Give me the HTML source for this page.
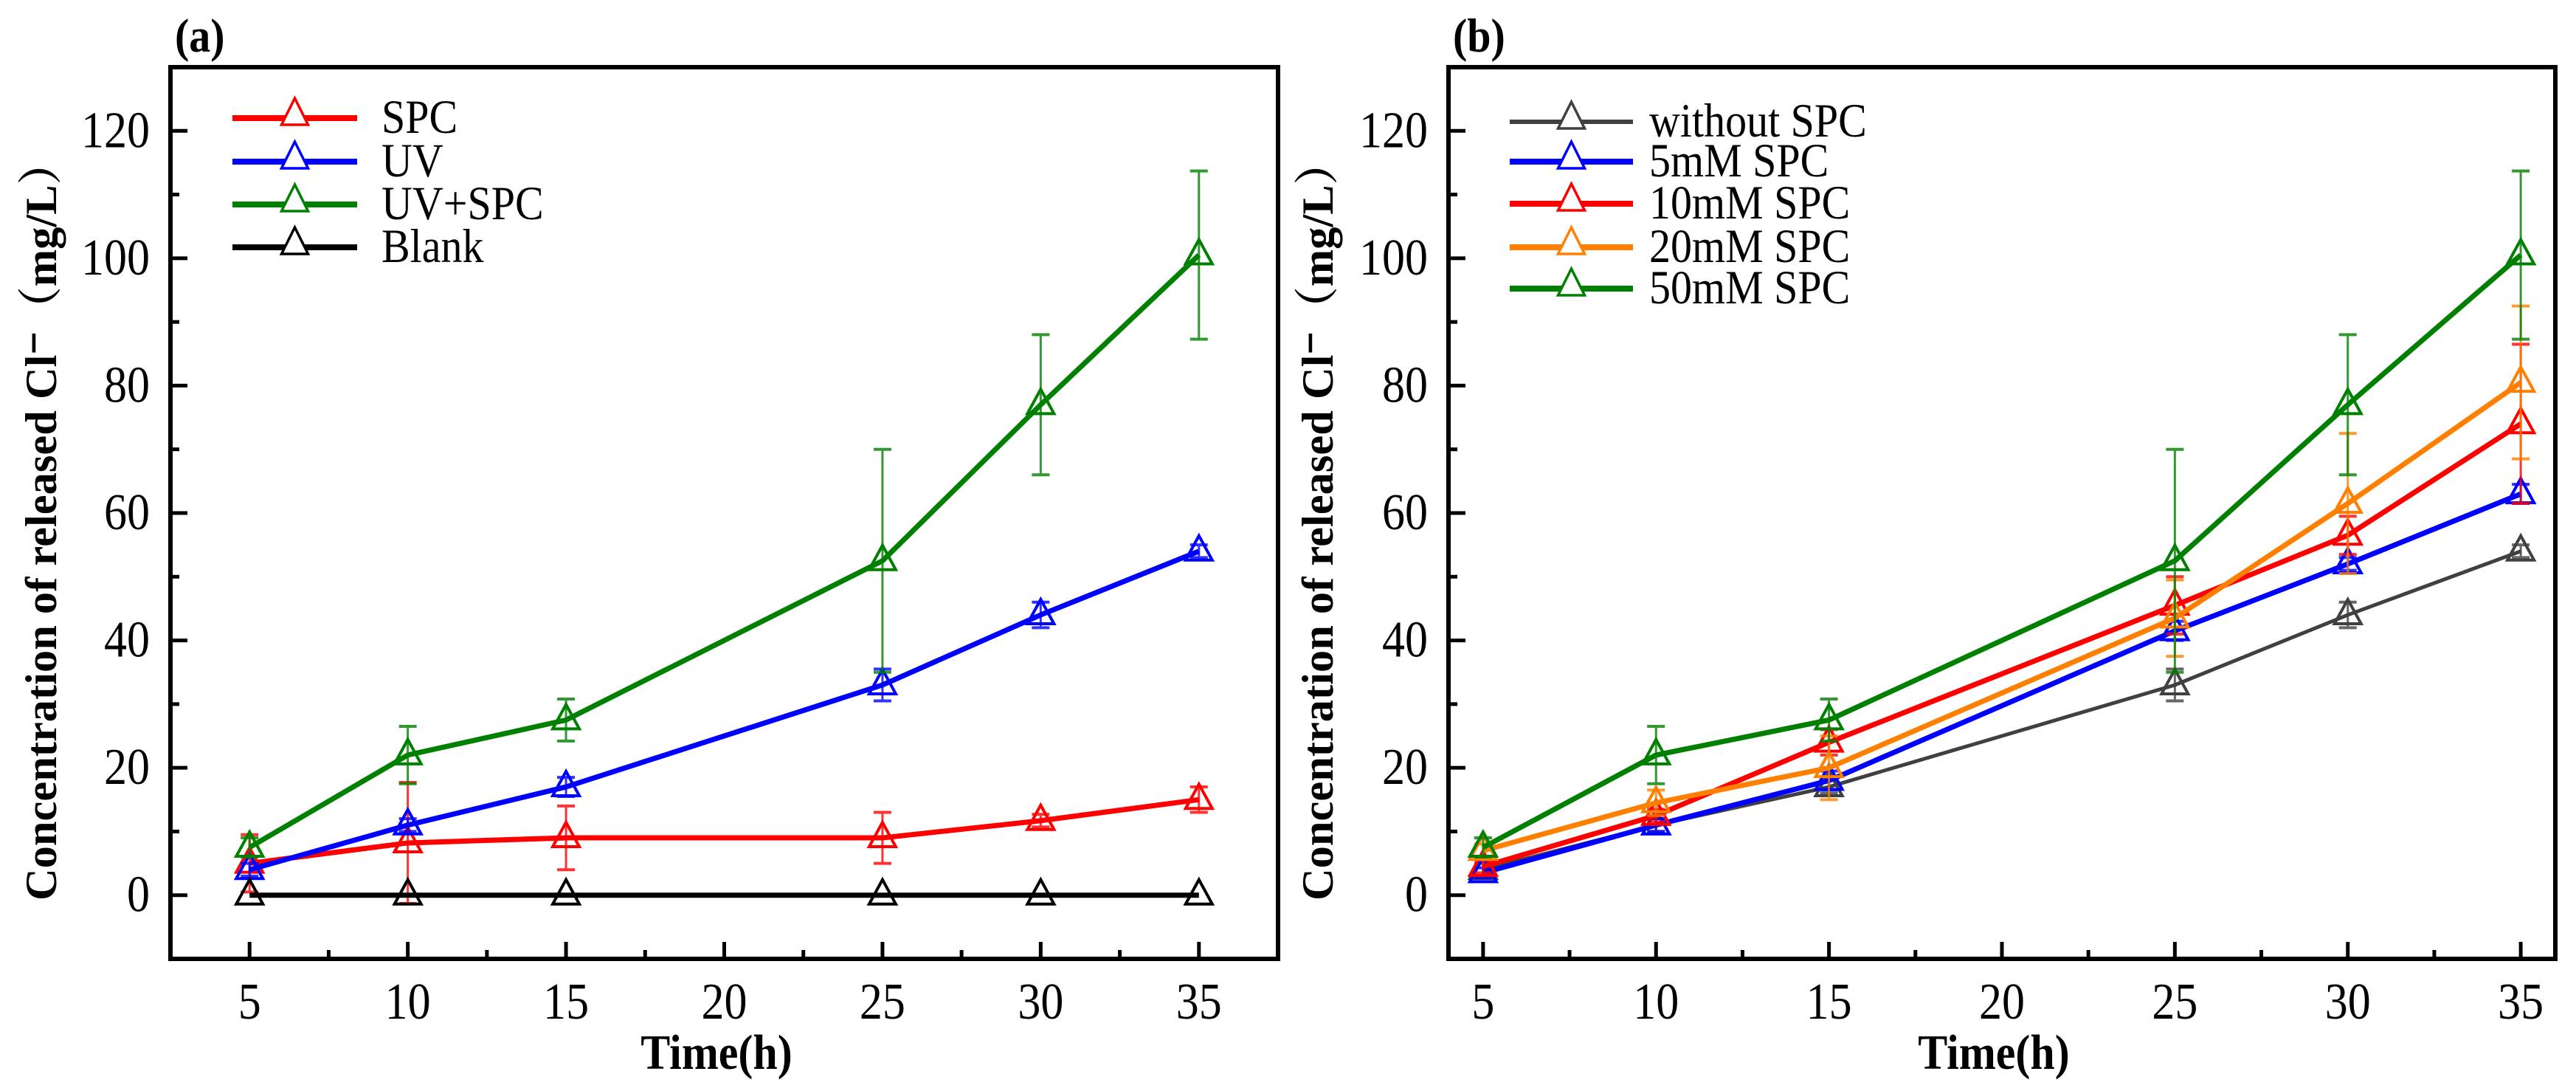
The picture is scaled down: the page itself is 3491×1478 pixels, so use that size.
<!DOCTYPE html>
<html><head><meta charset="utf-8">
<style>
html,body{margin:0;padding:0;background:#fff;}
svg{display:block;}
text{font-family:"Liberation Serif","Noto Serif CJK SC",serif;}
</style></head>
<body>
<svg id="fig" width="3491" height="1478" viewBox="0 0 3491 1478" xmlns="http://www.w3.org/2000/svg"></svg>
<script>
// ---- data ----
const times = [5, 10, 15, 25, 30, 35];
const xTicks = [5, 10, 15, 20, 25, 30, 35];
const yTicks = [0, 20, 40, 60, 80, 100, 120];
// panel (a)
const aNames = ["SPC", "UV", "UV+SPC", "Blank"];
const aSPC = [5, 8.2, 9, 9, 11.7, 15];
const aSPCerr = [4.5, 9.5, 5, 4, 1, 2];
const aUV = [4, 11, 17, 33, 44, 54];
const aUVerr = [1, 1, 1.5, 2.5, 2, 1];
const aUVSPC = [7.5, 22, 27.5, 52.5, 77, 100.5];
const aUVSPCerr = [1.5, 4.5, 3.3, 17.5, 11, 13.2];
const aBlank = [0, 0, 0, 0, 0, 0];
const aBlankErr = [0, 0, 0, 0, 0, 0];
// panel (b)
const bNames = ["without SPC", "5mM SPC", "10mM SPC", "20mM SPC", "50mM SPC"];
const bWithout = [4, 11, 17, 33, 44, 54];
const bWithoutErr = [1, 1, 1, 2.5, 2, 1];
const b5 = [3.5, 11, 18, 41.5, 52, 63];
const b5err = [0.8, 1, 1.5, 1.5, 1, 1.5];
const b10 = [4.5, 12.5, 24, 45.5, 56.5, 74];
const b10err = [1, 1, 2, 4.5, 3, 12.5];
const b20 = [7, 14.5, 20, 43.5, 61.5, 80.5];
const b20err = [1, 2, 5, 6, 11, 12];
const b50 = [7.5, 22, 27.5, 52.5, 77, 100.5];
const b50err = [1.5, 4.5, 3.3, 17.5, 11, 13.2];

const NS = "http://www.w3.org/2000/svg";
const svg = document.getElementById("fig");
function mk(tag, attrs, parent) {
  const e = document.createElementNS(NS, tag);
  for (const k in attrs) e.setAttribute(k, attrs[k]);
  (parent || svg).appendChild(e);
  return e;
}
function txt(str, x, y, size, anchor, bold, parent, sy) {
  const t = mk("text", {x: 0, y: 0, "font-size": size, "text-anchor": anchor || "start",
    transform: "translate(" + x + "," + y + ") scale(1," + (sy || 1.12) + ")"}, parent);
  if (bold) t.setAttribute("font-weight", "bold");
  t.textContent = str;
  return t;
}

function panel(cfg) {
  const g = mk("g", {});
  
  
  const L = cfg.left, R = cfg.right, T = 91, B = 1299;
  const yMin = -10, yMax = 130;
  const sx = v => L + (v - cfg.xMin) / (cfg.xMax - cfg.xMin) * (R - L);
  const sy = v => B - (v - yMin) / (yMax - yMin) * (B - T);

  const tg = mk("g", {}, g);
  
  
  xTicks.forEach(v => {
    mk("line", {x1: sx(v), x2: sx(v), y1: B, y2: B - 23, stroke: "#000", "stroke-width": 5}, tg);
    if (v + 2.5 < cfg.xMax) mk("line", {x1: sx(v + 2.5), x2: sx(v + 2.5), y1: B, y2: B - 12, stroke: "#000", "stroke-width": 5}, tg);
    const lab = txt(String(v), sx(v), 1380, 62, "middle", false, g);
    
    
  });
  yTicks.forEach(v => {
    mk("line", {x1: L, x2: L + 23, y1: sy(v), y2: sy(v), stroke: "#000", "stroke-width": 5}, tg);
    mk("line", {x1: L, x2: L + 12, y1: sy(v + 10), y2: sy(v + 10), stroke: "#000", "stroke-width": 5}, tg);
    const lab = txt(String(v), cfg.left - 28, sy(v) + 22, 62, "end", false, g);
    
    
  });

  cfg.series.forEach(s => {
    const sg = mk("g", {}, g);
    
    
    s.vals.forEach((v, i) => {
      const e = s.err[i];
      if (!e) return;
      const x = sx(times[i]);
      const eb = mk("g", {stroke: s.color, "stroke-width": 3, opacity: 0.8}, sg);
      
      
      mk("line", {x1: x, x2: x, y1: sy(v - e), y2: sy(v + e)}, eb);
      mk("line", {x1: x - 12, x2: x + 12, y1: sy(v - e), y2: sy(v - e), "stroke-width": 4}, eb);
      mk("line", {x1: x - 12, x2: x + 12, y1: sy(v + e), y2: sy(v + e), "stroke-width": 4}, eb);
    });
    const pts = s.vals.map((v, i) => sx(times[i]) + "," + sy(v)).join(" ");
    const pl = mk("polyline", {points: pts, fill: "none", stroke: s.color, "stroke-width": s.w, "stroke-linejoin": "round"}, sg);
    
    
    s.vals.forEach((v, i) => {
      const x = sx(times[i]), y = sy(v);
      const m = mk("polygon", {points: (x) + "," + (y - 21) + " " + (x - 18) + "," + (y + 12) + " " + (x + 18) + "," + (y + 12),
        fill: "none", stroke: s.color, "stroke-width": 4}, sg);
      
      
    });
  });

  const fr = mk("rect", {x: L, y: T, width: R - L, height: B - T, fill: "none", stroke: "#000", "stroke-width": 6}, g);
  
  

  const lg = mk("g", {}, g);
  
  
  cfg.series.forEach((s, i) => {
    const y = cfg.legY[i];
    const le = mk("g", {}, lg);
    
    
    mk("line", {x1: cfg.legX0, x2: cfg.legX1, y1: y, y2: y, stroke: s.color, "stroke-width": s.w + 1}, le);
    const mx = (cfg.legX0 + cfg.legX1) / 2;
    mk("polygon", {points: mx + "," + (y - 27) + " " + (mx - 18) + "," + (y + 9) + " " + (mx + 18) + "," + (y + 9),
      fill: "#fff", stroke: s.color, "stroke-width": 3.5}, le);
    txt(s.name, cfg.legText, y + 20, 58, "start", false, le);
  });

  const pt = txt(cfg.label, cfg.left + 6, 70, 58, "start", true, g);
  
  
  const xt = txt("Time(h)", cfg.xTitleX, 1448, 60, "middle", true, g);
  
  
  const yt = mk("text", {x: 0, y: 0, "font-size": 60, "font-weight": "bold", "text-anchor": "middle",
    textLength: 1030, lengthAdjust: "spacingAndGlyphs",
    transform: "translate(" + cfg.yTitleX + ",705) rotate(-90)"}, g);
  yt.textContent = "Concentration of released Cl\u207B\uFF08mg/L\uFF09";
  
  
}

panel({
  id: "panel-a", label: "(a)", left: 231, right: 1732, xMin: 2.5, xMax: 37.5,
  xTitleX: 971, yTitleX: 76,
  legX0: 315, legX1: 484, legText: 517, legY: [160, 219, 277, 335],
  series: [
    {name: aNames[0], vals: aSPC, err: aSPCerr, color: "#ff0000", w: 7},
    {name: aNames[1], vals: aUV, err: aUVerr, color: "#0000ff", w: 7},
    {name: aNames[2], vals: aUVSPC, err: aUVSPCerr, color: "#008000", w: 7},
    {name: aNames[3], vals: aBlank, err: aBlankErr, color: "#000000", w: 7}
  ]
});
panel({
  id: "panel-b", label: "(b)", left: 1963, right: 3463, xMin: 4, xMax: 36,
  xTitleX: 2702, yTitleX: 1806,
  legX0: 2046, legX1: 2213, legText: 2235, legY: [165, 219, 276, 335, 391],
  series: [
    {name: bNames[0], vals: bWithout, err: bWithoutErr, color: "#404040", w: 5},
    {name: bNames[1], vals: b5, err: b5err, color: "#0000ff", w: 7},
    {name: bNames[2], vals: b10, err: b10err, color: "#ff0000", w: 7},
    {name: bNames[3], vals: b20, err: b20err, color: "#ff8000", w: 7},
    {name: bNames[4], vals: b50, err: b50err, color: "#008000", w: 7}
  ]
});
</script>
</body></html>
